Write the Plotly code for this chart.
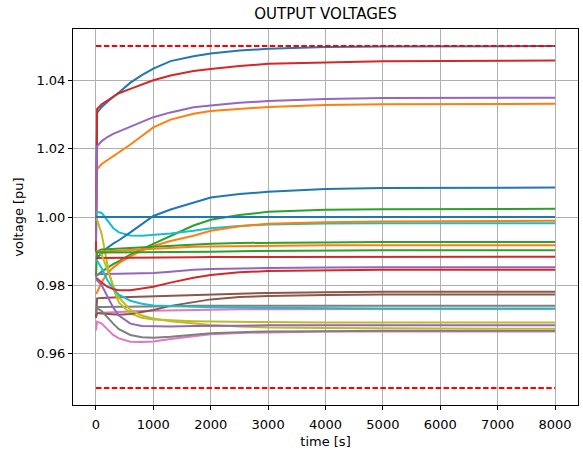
import plotly.graph_objects as go

# time grid [s]
T = [0, 20, 100, 200, 300, 400, 600, 800, 1000, 1300, 1700, 2000, 2500, 3000, 4000, 5000, 8000]

# bus voltages [pu], in plotting order (matplotlib default colour cycle)
V_01 = [0.990, 1.0305, 1.0322, 1.0337, 1.0352, 1.0364, 1.0393, 1.0415, 1.0434, 1.0456, 1.0470, 1.0478, 1.0487, 1.0492, 1.0497, 1.0499, 1.0500]
V_02 = [0.998, 1.0140, 1.0155, 1.0166, 1.0178, 1.0189, 1.0212, 1.0237, 1.0262, 1.0285, 1.0302, 1.0310, 1.0317, 1.0322, 1.0328, 1.0330, 1.0331]
V_03 = [0.9826, 0.9830, 0.9840, 0.9852, 0.9862, 0.9871, 0.9890, 0.9906, 0.9921, 0.9943, 0.9975, 0.9992, 1.0006, 1.0015, 1.0021, 1.0023, 1.0024]
V_04 = [0.990, 1.0316, 1.0330, 1.0340, 1.0352, 1.0362, 1.0375, 1.0388, 1.0400, 1.0414, 1.0427, 1.0433, 1.0442, 1.0448, 1.0453, 1.0456, 1.0458]
V_05 = [0.993, 1.0207, 1.0222, 1.0234, 1.0243, 1.0250, 1.0265, 1.0279, 1.0292, 1.0306, 1.0321, 1.0326, 1.0334, 1.0339, 1.0345, 1.0348, 1.0349]
V_06 = [0.9705, 0.9762, 0.9763, 0.9763, 0.9764, 0.9765, 0.9766, 0.9767, 0.9768, 0.9770, 0.9772, 0.9774, 0.9776, 0.9778, 0.9780, 0.9781, 0.9781]
V_07 = [0.9718, 0.9720, 0.9720, 0.9721, 0.9722, 0.9723, 0.9724, 0.9725, 0.9726, 0.9727, 0.9728, 0.9729, 0.9730, 0.9730, 0.9731, 0.9731, 0.9731]
V_08 = [0.9735, 0.9737, 0.9737, 0.9737, 0.9738, 0.9738, 0.9738, 0.9739, 0.9739, 0.9739, 0.9740, 0.9740, 0.9740, 0.9740, 0.9740, 0.9740, 0.9740]
V_09 = [0.9995, 0.9993, 0.9950, 0.9860, 0.9790, 0.9750, 0.9718, 0.9705, 0.9700, 0.9697, 0.9695, 0.9694, 0.9693, 0.9692, 0.9691, 0.9691, 0.9691]
V_10 = [1.0012, 1.0015, 1.0012, 0.9990, 0.9968, 0.9955, 0.9946, 0.9945, 0.9947, 0.9952, 0.9960, 0.9967, 0.9974, 0.9978, 0.9981, 0.9982, 0.9982]
V_11 = [0.9880, 0.9882, 0.9893, 0.9910, 0.9922, 0.9932, 0.9955, 0.9978, 1.0003, 1.0022, 1.0043, 1.0057, 1.0067, 1.0074, 1.0082, 1.0085, 1.0086]
V_12 = [0.9775, 0.9780, 0.9810, 0.9835, 0.9852, 0.9865, 0.9885, 0.9902, 0.9915, 0.9930, 0.9945, 0.9960, 0.9973, 0.9980, 0.9985, 0.9987, 0.9989]
V_13 = [0.9826, 0.9900, 0.9905, 0.9906, 0.9907, 0.9908, 0.9910, 0.9912, 0.9914, 0.9917, 0.9920, 0.9922, 0.9924, 0.9925, 0.9926, 0.9927, 0.9927]
V_14 = [0.9880, 0.9880, 0.9880, 0.9880, 0.9880, 0.9880, 0.9880, 0.9881, 0.9881, 0.9882, 0.9882, 0.9883, 0.9883, 0.9884, 0.9884, 0.9884, 0.9884]
V_15 = [0.9831, 0.9832, 0.9833, 0.9834, 0.9834, 0.9834, 0.9835, 0.9835, 0.9836, 0.9840, 0.9846, 0.9848, 0.9850, 0.9851, 0.9852, 0.9853, 0.9853]
V_16 = [0.9705, 0.9719, 0.9718, 0.9716, 0.9714, 0.9714, 0.9716, 0.9721, 0.9728, 0.9740, 0.9752, 0.9759, 0.9766, 0.9769, 0.9772, 0.9773, 0.9773]
V_17 = [0.9668, 0.9694, 0.9688, 0.9670, 0.9655, 0.9645, 0.9635, 0.9634, 0.9636, 0.9643, 0.9652, 0.9657, 0.9661, 0.9663, 0.9665, 0.9665, 0.9665]
V_18 = [0.9720, 0.9733, 0.9725, 0.9705, 0.9688, 0.9672, 0.9655, 0.9648, 0.9647, 0.9650, 0.9656, 0.9660, 0.9663, 0.9665, 0.9666, 0.9667, 0.9667]
V_19 = [0.9900, 0.9900, 0.9890, 0.9845, 0.9800, 0.9765, 0.9728, 0.9712, 0.9703, 0.9695, 0.9688, 0.9684, 0.9680, 0.9677, 0.9675, 0.9674, 0.9673]
V_20 = [0.9874, 0.9872, 0.9850, 0.9815, 0.9790, 0.9773, 0.9755, 0.9746, 0.9741, 0.9739, 0.9737, 0.9736, 0.9735, 0.9734, 0.9733, 0.9732, 0.9732]
V_21 = [1.0000, 1.0000, 1.0000, 1.0000, 1.0000, 1.0000, 1.0000, 1.0000, 1.0000, 1.0000, 1.0000, 1.0000, 1.0000, 1.0000, 1.0000, 1.0000, 1.0000]
V_22 = [0.9895, 0.9899, 0.9899, 0.9900, 0.9901, 0.9902, 0.9904, 0.9906, 0.9908, 0.9910, 0.9913, 0.9914, 0.9915, 0.9916, 0.9917, 0.9917, 0.9917]
V_23 = [0.9900, 0.9897, 0.9896, 0.9896, 0.9896, 0.9896, 0.9896, 0.9896, 0.9896, 0.9896, 0.9897, 0.9898, 0.9900, 0.9901, 0.9902, 0.9903, 0.9903]
V_24 = [0.9822, 0.9820, 0.9808, 0.9796, 0.9789, 0.9786, 0.9786, 0.9790, 0.9796, 0.9808, 0.9822, 0.9830, 0.9838, 0.9842, 0.9845, 0.9846, 0.9846]
V_25 = [0.9816, 0.9815, 0.9800, 0.9765, 0.9735, 0.9712, 0.9688, 0.9681, 0.9680, 0.9680, 0.9681, 0.9682, 0.9682, 0.9683, 0.9683, 0.9683, 0.9683]

SERIES = [V_01, V_02, V_03, V_04, V_05, V_06, V_07, V_08, V_09, V_10,
          V_11, V_12, V_13, V_14, V_15, V_16, V_17, V_18, V_19, V_20,
          V_21, V_22, V_23, V_24, V_25]

# voltage limits
LIMIT_T = [0, 8000]
V_MAX = 1.05
V_MIN = 0.95

X_TICKS = [0, 1000, 2000, 3000, 4000, 5000, 6000, 7000, 8000]
X_LABELS = ["0", "1000", "2000", "3000", "4000", "5000", "6000", "7000", "8000"]
Y_TICKS = [0.96, 0.98, 1.00, 1.02, 1.04]
Y_LABELS = ["0.96", "0.98", "1.00", "1.02", "1.04"]

COLORS = ["#1f77b4", "#ff7f0e", "#2ca02c", "#d62728", "#9467bd",
          "#8c564b", "#e377c2", "#7f7f7f", "#bcbd22", "#17becf"]

fig = go.Figure()
for i, v in enumerate(SERIES):
    fig.add_trace(go.Scatter(x=T, y=v, mode="lines",
                             line=dict(color=COLORS[i % 10], width=2),
                             showlegend=False))
for lim in (V_MAX, V_MIN):
    fig.add_trace(go.Scatter(x=LIMIT_T, y=[lim, lim], mode="lines",
                             line=dict(color="red", width=2, dash="5.5px,2.4px"),
                             showlegend=False))

font = "DejaVu Sans"
axis_common = dict(showgrid=True, gridcolor="#b0b0b0", gridwidth=1,
                   showline=True, linecolor="black", linewidth=1, mirror=True,
                   ticks="outside", ticklen=4, tickcolor="black", tickwidth=1,
                   zeroline=False, automargin=False,
                   tickfont=dict(family=font, size=13, color="black"))

fig.update_layout(
    width=583, height=451,
    margin=dict(l=73, r=5, t=29, b=46),
    paper_bgcolor="white", plot_bgcolor="white",
    title=dict(text="OUTPUT VOLTAGES", x=0.5, xref="paper", xanchor="center",
               y=1 - 14 / 451, yref="container", yanchor="middle",
               font=dict(family=font, size=15, color="black")),
    xaxis=dict(range=[-400, 8400], tickvals=X_TICKS, ticktext=X_LABELS,
               ticklabelstandoff=3,
               title=dict(text="time [s]", font=dict(family=font, size=13, color="black"), standoff=6),
               **axis_common),
    yaxis=dict(range=[0.945, 1.055], tickvals=Y_TICKS, ticktext=Y_LABELS,
               title=dict(text="voltage [pu]", font=dict(family=font, size=13, color="black"), standoff=9),
               **axis_common),
)

fig.write_html("out.html", config={"displayModeBar": False},
               post_script="document.body.style.margin='0px';")
